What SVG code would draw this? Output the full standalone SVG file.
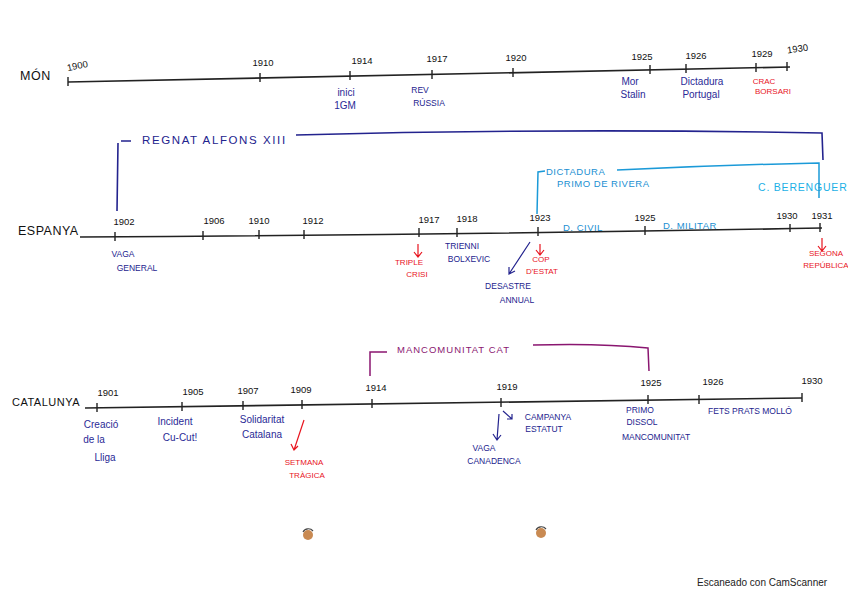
<svg xmlns="http://www.w3.org/2000/svg" width="848" height="599" viewBox="0 0 848 599">
<defs>
<style>
text{font-family:"Liberation Sans","DejaVu Sans",sans-serif}
.row{font-size:12.5px;fill:#111;letter-spacing:0.5px}
.yr{font-size:9.5px;fill:#111;text-anchor:middle}
.axis{stroke:#222;stroke-width:1.6;fill:none}
.tick{stroke:#222;stroke-width:1.4}
.nv{font-size:8.5px;fill:#23238e;text-anchor:middle}
.nvl{font-size:10px;fill:#2a2a96;text-anchor:middle}
.rd{font-size:8px;fill:#e8141e;text-anchor:middle}
.lb{font-size:9.5px;fill:#1b8fd2;letter-spacing:0.5px}
.pu{font-size:9.5px;fill:#8a1670;letter-spacing:1px}
.br-nv{stroke:#23238e;stroke-width:1.6;fill:none}
.br-lb{stroke:#1b9ad8;stroke-width:1.5;fill:none}
.br-pu{stroke:#8a1670;stroke-width:1.5;fill:none}
.ar-rd{stroke:#e8141e;stroke-width:1.2;fill:none}
.ar-nv{stroke:#23238e;stroke-width:1.2;fill:none}
</style>
</defs>
<rect width="848" height="599" fill="#ffffff"/>

<!-- MÓN -->
<g id="mon">
<text class="row" x="20" y="80">MÓN</text>
<path class="axis" d="M68,82 Q400,76 790,67"/>
<path class="tick" d="M68,77v9M260,73v9M350,71v9M432,70v9M513,68v9M650,65v9M686,64v9M756,63v9M787,62v9"/>
<text class="yr" x="78" y="69" transform="rotate(-12 78 69)">1900</text>
<text class="yr" x="263" y="66">1910</text>
<text class="yr" x="362" y="64">1914</text>
<text class="yr" x="437" y="62">1917</text>
<text class="yr" x="516" y="61">1920</text>
<text class="yr" x="642" y="60">1925</text>
<text class="yr" x="696" y="59">1926</text>
<text class="yr" x="762" y="57">1929</text>
<text class="yr" x="798" y="52" transform="rotate(-8 798 52)">1930</text>
</g>
<g id="mon-events">
<text class="nvl" x="346" y="96">inici</text>
<text class="nvl" x="345" y="109">1GM</text>
<text class="nv" x="420" y="93">REV</text>
<text class="nv" x="429" y="106">RÚSSIA</text>
<text class="nvl" x="630" y="85">Mor</text>
<text class="nvl" x="633" y="98">Stalin</text>
<text class="nvl" x="702" y="85">Dictadura</text>
<text class="nvl" x="701" y="98">Portugal</text>
<text class="rd" x="764" y="84">CRAC</text>
<text class="rd" x="773" y="94">BORSARI</text>
</g>

<!-- ESPANYA -->
<g id="espanya">
<text class="row" x="18" y="235">ESPANYA</text>
<path class="axis" d="M80,237 Q450,235 822,228"/>
<path class="tick" d="M115,232v9M203,231v9M259,230v9M304,230v9M419,228v9M457,228v9M538,227v9M645,226v9M790,224v8M820,223v9"/>
<text class="yr" x="124" y="225">1902</text>
<text class="yr" x="214" y="224">1906</text>
<text class="yr" x="259" y="224">1910</text>
<text class="yr" x="313" y="224">1912</text>
<text class="yr" x="429" y="223">1917</text>
<text class="yr" x="467" y="222">1918</text>
<text class="yr" x="540" y="221">1923</text>
<text class="yr" x="645" y="221">1925</text>
<text class="yr" x="787" y="219">1930</text>
<text class="yr" x="822" y="219">1931</text>
</g>
<g id="espanya-events">
<text class="nv" x="123" y="257">VAGA</text>
<text class="nv" x="137" y="271">GENERAL</text>
<text class="rd" x="409" y="265">TRIPLE</text>
<text class="rd" x="417" y="277">CRISI</text>
<text class="nv" x="462" y="249">TRIENNI</text>
<text class="nv" x="469" y="262">BOLXEVIC</text>
<text class="nv" x="508" y="289">DESASTRE</text>
<text class="nv" x="517" y="303">ANNUAL</text>
<text class="rd" x="541" y="262">COP</text>
<text class="rd" x="542" y="274">D'ESTAT</text>
<text class="lb" x="563" y="231">D. CIVIL</text>
<text class="lb" x="663" y="229">D. MILITAR</text>
<text class="rd" x="826" y="256">SEGONA</text>
<text class="rd" x="826" y="268">REPÚBLICA</text>
</g>
<g id="regnat-alfons">
<text x="142" y="144" style="font-size:11.5px;fill:#23238e;letter-spacing:1.6px">REGNAT  ALFONS  XIII</text>
</g>
<g id="dictadura-primo">
<text class="lb" x="546" y="175">DICTADURA</text>
<text class="lb" x="557" y="187">PRIMO DE RIVERA</text>
</g>
<g id="berenguer">
<text x="758" y="191" style="font-size:10.5px;fill:#1bb0e6;letter-spacing:0.8px">C. BERENGUER</text>
</g>

<!-- CATALUNYA -->
<g id="catalunya">
<text class="row" x="12" y="406" style="font-size:11px">CATALUNYA</text>
<path class="axis" d="M85,408 Q450,404 802,398"/>
<path class="tick" d="M97,403v9M182,402v9M243,401v9M302,400v9M372,399v9M501,398v9M648,395v9M699,395v9M802,393v9"/>
<text class="yr" x="108" y="396">1901</text>
<text class="yr" x="193" y="395">1905</text>
<text class="yr" x="248" y="394">1907</text>
<text class="yr" x="301" y="393">1909</text>
<text class="yr" x="376" y="391">1914</text>
<text class="yr" x="507" y="390">1919</text>
<text class="yr" x="651" y="386">1925</text>
<text class="yr" x="713" y="385">1926</text>
<text class="yr" x="812" y="384">1930</text>
</g>
<g id="catalunya-events">
<text class="nvl" x="101" y="428">Creació</text>
<text class="nvl" x="94" y="443">de la</text>
<text class="nvl" x="105" y="461">Lliga</text>
<text class="nvl" x="175" y="425">Incident</text>
<text class="nvl" x="180" y="441">Cu-Cut!</text>
<text class="nvl" x="262" y="423">Solidaritat</text>
<text class="nvl" x="262" y="438">Catalana</text>
<text class="rd" x="304" y="465">SETMANA</text>
<text class="rd" x="307" y="478">TRÀGICA</text>
<text class="nv" x="484" y="451">VAGA</text>
<text class="nv" x="494" y="464">CANADENCA</text>
<text class="nv" x="548" y="420">CAMPANYA</text>
<text class="nv" x="544" y="432">ESTATUT</text>
<text class="nv" x="640" y="413">PRIMO</text>
<text class="nv" x="642" y="425">DISSOL</text>
<text class="nv" x="656" y="440">MANCOMUNITAT</text>
<text class="nv" x="750" y="414">FETS PRATS MOLLÓ</text>
</g>
<g id="mancomunitat">
<text class="pu" x="397" y="353">MANCOMUNITAT   CAT</text>
</g>

<!-- connectors -->
<g id="connectors">
<path class="br-nv" d="M117,211 L118,143 M121,141 H131 M296,135 Q560,128 822,133 L823,160"/>
<path class="br-lb" d="M537,214 L538,172 L545,171 M617,170 Q720,165 819,163 L819,198"/>
<path class="br-pu" d="M370,376 L370,352 L387,352 M533,345 Q600,343 648,348 L649,371"/>
<path class="ar-rd" d="M418,244 V257 M414,252 L418,257 L422,252"/>
<path class="ar-rd" d="M540,244 V255 M536,250 L540,255 L544,250"/>
<path class="ar-rd" d="M822,238 V251 M818,246 L822,251 L826,246"/>
<path class="ar-rd" d="M304,420 L294,450 M291,444 L294,450 L298,446"/>
<path class="ar-nv" d="M530,242 L509,274 M509,267 L509,274 L515,271"/>
<path class="ar-nv" d="M499,414 L497,440 M493,434 L497,440 L501,435"/>
<path class="ar-nv" d="M503,411 L512,419 M507,419 L512,419 L512,414"/>
</g>

<!-- scan details -->
<circle cx="308" cy="535" r="5" fill="#c98a52"/>
<path d="M303,532 A6,6 0 0 1 313,531" stroke="#444" stroke-width="1.2" fill="none"/>
<circle cx="541" cy="533" r="5" fill="#c98a52"/>
<path d="M536,530 A6,6 0 0 1 546,529" stroke="#444" stroke-width="1.2" fill="none"/>
<text x="697" y="586" style="font-size:10px;fill:#222">Escaneado con CamScanner</text>
</svg>
